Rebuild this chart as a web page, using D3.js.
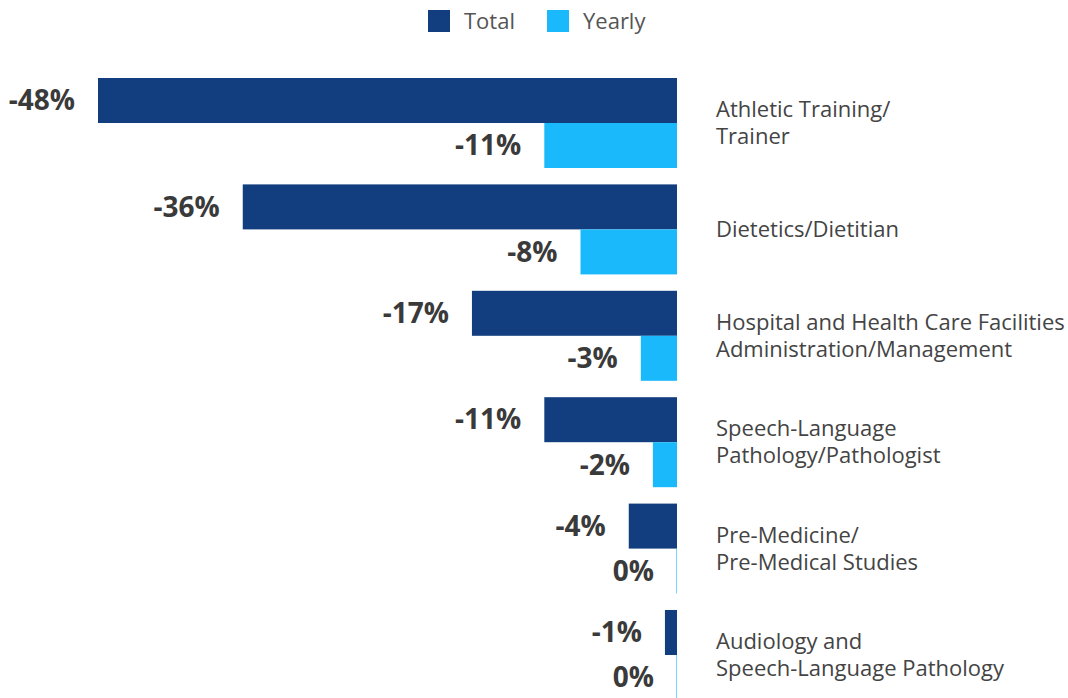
<!DOCTYPE html>
<html><head><meta charset="utf-8">
<script src="https://cdn.jsdelivr.net/npm/d3@7"></script>
<style>body{margin:0;background:#fff;}svg{display:block;font-family:"Open Sans",sans-serif;}</style>
</head><body><svg id="c" width="1068" height="698"></svg>
<script>
const categories = [
  ["Athletic Training/", "Trainer"],
  ["Dietetics/Dietitian"],
  ["Hospital and Health Care Facilities", "Administration/Management"],
  ["Speech-Language", "Pathology/Pathologist"],
  ["Pre-Medicine/", "Pre-Medical Studies"],
  ["Audiology and", "Speech-Language Pathology"]
];
const seriesNames = ["Total", "Yearly"];
const totalValues = [-48, -36, -17, -11, -4, -1];
const yearlyValues = [-11, -8, -3, -2, 0, 0];
const colors = ["#123e7f", "#1ab9fb"];

const svg = d3.select("#c");
const keys = categories.map(c => c.join(" "));
const x = d3.scaleLinear().domain([-48, 0]).range([98, 677]);
const y0 = d3.scaleBand().domain(keys).range([78, 700]).paddingInner(0.154).paddingOuter(0);
const y1 = d3.scaleBand().domain(seriesNames).range([0, y0.bandwidth()]);
const color = d3.scaleOrdinal().domain(seriesNames).range(colors);

const data = [];
keys.forEach((k, i) => {
  data.push({cat: k, s: "Total", v: totalValues[i]});
  data.push({cat: k, s: "Yearly", v: yearlyValues[i]});
});

svg.append("g").selectAll("rect").data(data).join("rect")
  .attr("x", d => d.v === 0 ? x(0) - 1 : x(d.v))
  .attr("width", d => d.v === 0 ? 1 : x(0) - x(d.v))
  .attr("y", d => y0(d.cat) + y1(d.s))
  .attr("height", y1.bandwidth())
  .attr("fill", d => color(d.s))
  .attr("opacity", d => d.v === 0 ? 0.6 : 1);

svg.append("g").selectAll("text").data(data).join("text")
  .attr("x", d => x(d.v) - 23)
  .attr("y", d => y0(d.cat) + y1(d.s) + y1.bandwidth() / 2)
  .attr("dy", "0.35em")
  .attr("text-anchor", "end")
  .attr("font-size", 28)
  .attr("font-weight", 700)
  .attr("fill", "#3a3a3a")
  .text(d => d.v + "%");

const lh = 27;
const fs = 22;
const cg = svg.append("g").selectAll("text").data(categories).join("text")
  .attr("x", 716)
  .attr("y", (d, i) => y0(keys[i]) + y0.bandwidth() / 2)
  .attr("font-size", fs)
  .attr("fill", "#444");
cg.selectAll("tspan").data(d => d.map((t, j) => ({t, j, n: d.length}))).join("tspan")
  .attr("x", 716)
  .attr("dy", d => d.j === 0 ? ((-(d.n - 1) / 2) * lh / fs + 0.35) + "em" : (lh / fs) + "em")
  .text(d => d.t);

const leg = svg.append("g");
const legX = [428, 547];
seriesNames.forEach((s, i) => {
  leg.append("rect").attr("x", legX[i]).attr("y", 10).attr("width", 22).attr("height", 22).attr("fill", color(s));
  leg.append("text").attr("x", legX[i] + 36).attr("y", 21).attr("dy", "0.35em")
    .attr("font-size", 22).attr("fill", "#555").text(s);
});
</script></body></html>
